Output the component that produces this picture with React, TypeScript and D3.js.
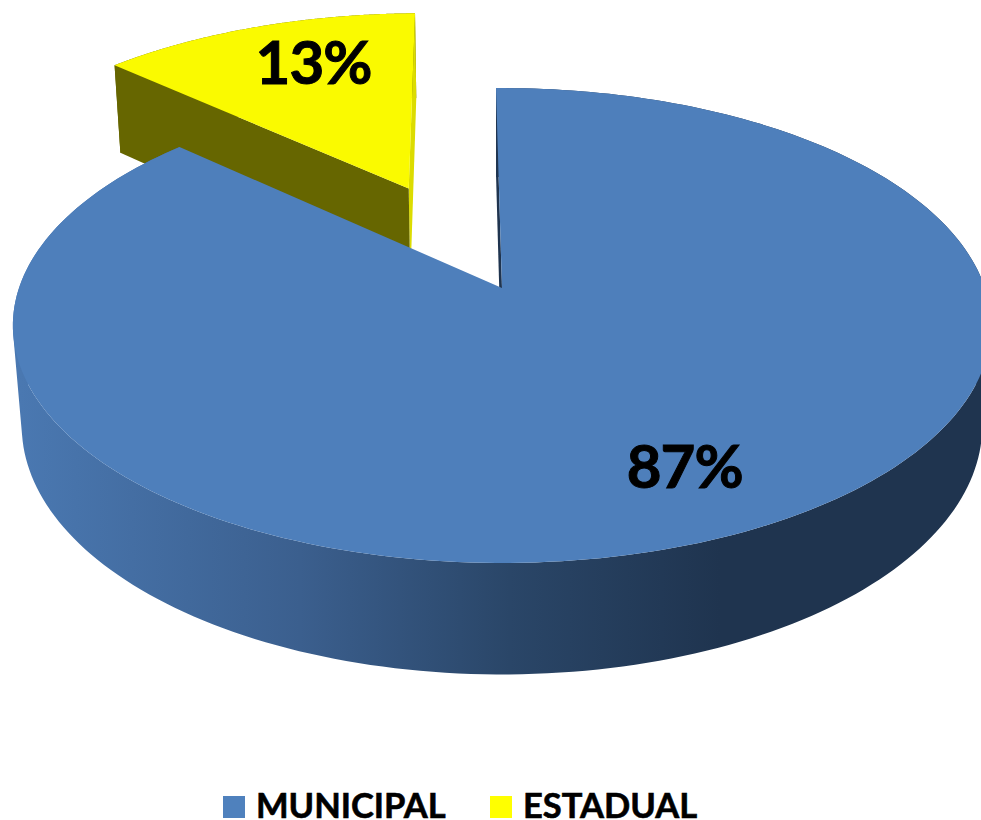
import React, { useEffect, useRef } from "react";
import * as d3 from "d3";

const categories = ["MUNICIPAL", "ESTADUAL"];
const shares = [87, 13];
const legendColors = ["#4f81bd", "#ffff00"];
const topColors = ["#4e7fbb", "#fafa00"];

interface Pt {
  x: number;
  y: number;
}

const App: React.FC = () => {
  const chartRef = useRef<SVGSVGElement | null>(null);

  useEffect(() => {
    const svg = d3.select(chartRef.current);
    svg.selectAll("*").remove();

    // perspective of the pie plane, worked out from the rim and the apex
    const cx = 502;
    const radius = 483;
    const persp = -0.158;
    const ySlope = 186;
    const yApex = 288;
    const baseDrop = 106;
    const baseW = 0.018;
    const explode = 0.505;

    const top = (p: Pt): [number, number] => {
      const w = 1 + persp * p.y;
      return [cx + (radius * p.x) / w, (ySlope * p.y + yApex) / w];
    };
    const base = (p: Pt): [number, number] => {
      const w = 1 + persp * p.y + baseW;
      return [cx + (radius * p.x) / w, (ySlope * p.y + yApex + baseDrop) / w];
    };

    const arcs = d3
      .pie<number>()
      .sort(null)
      .startAngle(-0.0144)
      .endAngle(2 * Math.PI - 0.0144)(shares);

    const line = d3.line();

    const grad = svg
      .append("defs")
      .append("linearGradient")
      .attr("id", "wall")
      .attr("gradientUnits", "userSpaceOnUse")
      .attr("x1", 20)
      .attr("x2", 720)
      .attr("y1", 0)
      .attr("y2", 0);
    [
      [0, "#4a78b1"],
      [0.4, "#3b5f8e"],
      [0.7, "#2a4668"],
      [1, "#1f344f"],
    ].forEach(([o, c]) => grad.append("stop").attr("offset", o).attr("stop-color", c));

    const slices = arcs.map((d, i) => {
      const mid = (d.startAngle + d.endAngle) / 2;
      const off: Pt =
        i === 1
          ? { x: explode * Math.sin(mid), y: -explode * Math.cos(mid) }
          : { x: 0, y: 0 };
      const rim = d3.range(0, 241).map((k) => {
        const a = d.startAngle + ((d.endAngle - d.startAngle) * k) / 240;
        return { x: off.x + Math.sin(a), y: off.y - Math.cos(a) };
      });
      return { i, off, rim };
    });

    const drawSlice = (
      s: (typeof slices)[number],
      wallFirst: string,
      wallLast: string | null,
      wallArc: string
    ) => {
      const g = svg.append("g");
      const first = s.rim[0];
      const last = s.rim[s.rim.length - 1];
      // one quad per step, all wound the same way, so the fold at the sides does not cancel out
      const band = d3
        .pairs(s.rim)
        .map(([a, b]) => {
          const quad = [top(a), top(b), base(b), base(a)] as [number, number][];
          if (d3.polygonArea(quad) < 0) quad.reverse();
          return line(quad) + "Z";
        })
        .join("");
      g.append("path").attr("d", band).attr("fill", wallArc);
      if (wallLast) {
        g.append("path")
          .attr("d", line([top(last), top(s.off), base(s.off), base(last)]) + "Z")
          .attr("fill", wallLast);
      }
      g.append("path")
        .attr("d", line([top(first), top(s.off), base(s.off), base(first)]) + "Z")
        .attr("fill", wallFirst);
      g.append("path")
        .attr("d", line([top(s.off), ...s.rim.map(top)]) + "Z")
        .attr("fill", topColors[s.i]);
    };

    // the yellow slice sits behind, the blue one covers its foot
    drawSlice(slices[1], "#666600", "#dcdc00", "#666600");
    drawSlice(slices[0], "#1f344f", null, "url(#wall)");

    const labelAt: Pt[] = [
      { x: 0.333, y: 0.727 },
      { x: -0.459, y: -1.154 },
    ];
    const labelNudge = [
      [1, 10],
      [-1, 22],
    ];
    slices.forEach((s) => {
      const [px, py] = top(labelAt[s.i]);
      svg
        .append("text")
        .attr("x", px + labelNudge[s.i][0])
        .attr("y", py + labelNudge[s.i][1])
        .attr("text-anchor", "middle")
        .attr("font-family", "Lato, sans-serif")
        .attr("font-weight", 700)
        .attr("font-size", 60)
        .attr("letter-spacing", -1)
        .attr("stroke", "#000")
        .attr("stroke-width", 1)
        .attr("fill", "#000")
        .text(`${shares[s.i]}%`);
    });

    const legendX = d3
      .scaleOrdinal<string, number>()
      .domain(categories)
      .range([223, 490]);
    const legend = svg
      .selectAll("g.legend")
      .data(categories)
      .enter()
      .append("g")
      .attr("class", "legend")
      .attr("transform", (c) => `translate(${legendX(c)},796)`);
    legend
      .append("rect")
      .attr("width", 22)
      .attr("height", 22)
      .attr("fill", (_, i) => legendColors[i]);
    legend
      .append("text")
      .attr("x", 33)
      .attr("y", 22)
      .attr("font-family", "Lato, sans-serif")
      .attr("font-weight", 700)
      .attr("font-size", 34.5)
      .attr("stroke", "#000")
      .attr("stroke-width", 0.6)
      .attr("fill", "#000")
      .text((c) => c);
  }, []);

  return (
    <svg
      ref={chartRef}
      width={981}
      height={820}
      style={{ position: "absolute", left: 0, top: 0 }}
    ></svg>
  );
};

export default App;
